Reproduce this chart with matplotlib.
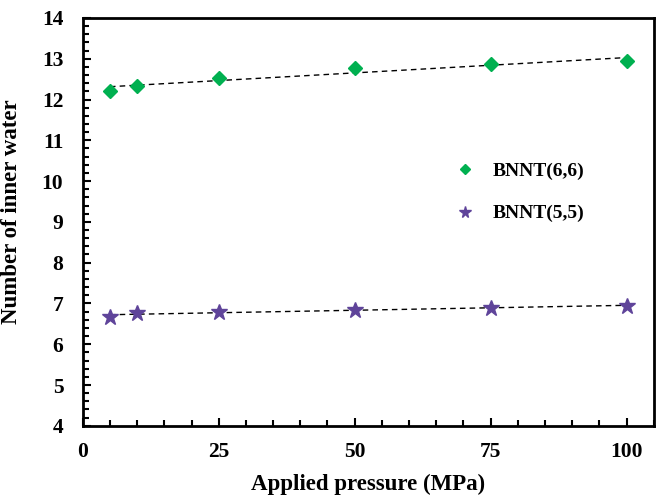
import numpy as np
import matplotlib
matplotlib.use("Agg")
import matplotlib.pyplot as plt
from matplotlib.ticker import MultipleLocator

# data
pressure = [5, 10, 25, 50, 75, 100]
bnnt66 = [12.22, 12.33, 12.52, 12.77, 12.87, 12.94]
bnnt55 = [6.66, 6.77, 6.80, 6.85, 6.89, 6.94]

GREEN, PURPLE = "#00B050", "#5F449A"

plt.rcParams.update({
    "font.family": ["Liberation Serif", "DejaVu Serif"],
    "font.weight": "bold",
    "font.size": 15.5,
})

fig = plt.figure(figsize=(6.57, 4.98), dpi=100)
ax = fig.add_axes([0.126, 0.145, 0.869, 0.819])

xs = np.array(pressure, dtype=float)
for ys, color, marker, ms, label in [
    (bnnt66, GREEN, "D", 7, "BNNT(6,6)"),
    (bnnt55, PURPLE, "*", 12, "BNNT(5,5)"),
]:
    ax.plot(xs, ys, ls="none", marker=marker, color=color, ms=ms, label=label, zorder=3)
    k, b = np.polyfit(xs, ys, 1)
    ax.plot(xs[[0, -1]], k * xs[[0, -1]] + b, ls=(0, (4, 3)), color="black", lw=1.0, zorder=2)

ax.set_xlim(0, 105)
ax.set_ylim(4, 14)
ax.set_xticks([0, 25, 50, 75, 100])
ax.xaxis.set_minor_locator(MultipleLocator(5))
ax.yaxis.set_major_locator(MultipleLocator(1))
ax.yaxis.set_minor_locator(MultipleLocator(0.2))
ax.tick_params(which="both", direction="in", width=1.5)
ax.tick_params(which="major", length=6, labelsize=15.5, pad=14)
ax.tick_params(which="minor", length=4)
ax.tick_params(axis="x", pad=12)
for s in ax.spines.values():
    s.set_linewidth(2)

ax.set_xlabel("Applied pressure (MPa)", fontsize=16.5, fontweight="bold", labelpad=8)
ax.set_ylabel("Number of inner water", fontsize=16.5, fontweight="bold", labelpad=8)
ax.yaxis.set_label_coords(-0.107, 0.525)

ax.legend(loc="upper left", bbox_to_anchor=(0.612, 0.69), frameon=False,
          labelspacing=1.3, handletextpad=0.6, handlelength=1.6, markerscale=0.7,
          prop={"weight": "bold", "size": 14})

fig.savefig("out.png", dpi=100)
